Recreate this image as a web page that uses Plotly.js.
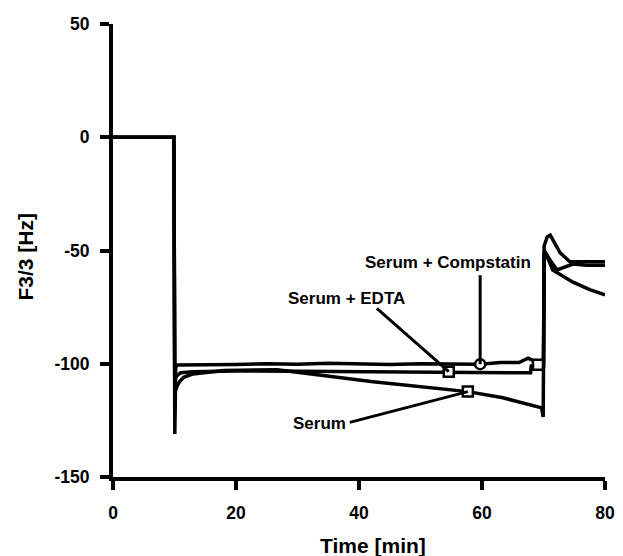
<!DOCTYPE html>
<html>
<head>
<meta charset="utf-8">
<script src="https://cdn.plot.ly/plotly-3.0.1.min.js"></script>
<style>
  html, body { margin: 0; padding: 0; background: #fff; }
  #chart { width: 623px; height: 556px; }
</style>
</head>
<body>
<div id="chart"></div>
<script>
// ---- Data ----
const timeSerum = [0, 9.9, 10.05, 10.15, 10.4, 10.8, 11.5, 13, 18, 26.7, 42.3, 57.7, 63.4, 69.7, 69.95, 70.1, 70.5, 71.5, 74.8, 77.6, 80];
const freqSerum = [0, 0, -131, -112, -110, -108, -106, -104.5, -103, -102.6, -107.9, -112.3, -115, -119.5, -123.5, -52, -52, -58.6, -64, -67.4, -69.6];

const timeEDTA = [0, 9.9, 10.05, 10.2, 10.5, 11, 13, 20, 30, 40, 54.6, 62, 67.9, 68.0, 69.5, 70.0, 70.15, 71, 72.2, 74.8, 77, 80];
const freqEDTA = [0, 0, -118, -106, -105, -104, -103.5, -103.2, -103.3, -103.4, -103.5, -103.8, -104, -101, -100.5, -102, -50, -54, -58.6, -56, -56.5, -56.5];

const timeComp = [0, 9.9, 10.05, 10.2, 10.5, 12, 20, 25, 30, 35, 40, 45, 50, 55, 59.7, 63, 66, 67.5, 69, 70, 70.1, 70.6, 71.1, 72.7, 74.3, 77, 80];
const freqComp = [0, 0, -112, -101.5, -100.5, -100.5, -100.3, -100, -100.2, -99.8, -100, -100.3, -100, -100.2, -100.2, -99.5, -99.5, -97.5, -99.5, -100, -48, -44, -43.2, -51, -55, -55, -55];

// Open markers on the traces
const markerTime = [59.7, 54.6, 57.7, 69.1];
const markerFreq = [-100.2, -103.5, -112.3, -100.4];
const markerSymbols = ['circle', 'square', 'square', 'square'];

// Labels and their leader lines
const labelTexts = ['Serum + Compstatin', 'Serum + EDTA', 'Serum'];
const labelX = [54.4, 38.0, 33.5];
const labelY = [-55.1, -71.4, -126.4];
const leaderStartX = [59.7, 42.9, 38.5];
const leaderStartY = [-60.9, -75.5, -125.9];
const leaderEndX = [59.7, 54.6, 57.7];
const leaderEndY = [-100.2, -103.5, -112.3];

// Axis ticks
const xTicks = [0, 20, 40, 60, 80];
const yTicks = [-150, -100, -50, 0, 50];

const FONT = 'Liberation Sans, Arial, Helvetica, sans-serif';
const lineStyle = {color: '#000', width: 3.5};

const traces = [
  {x: timeSerum, y: freqSerum, mode: 'lines', line: lineStyle, name: 'Serum', showlegend: false, hoverinfo: 'skip'},
  {x: timeEDTA, y: freqEDTA, mode: 'lines', line: lineStyle, name: 'Serum + EDTA', showlegend: false, hoverinfo: 'skip'},
  {x: timeComp, y: freqComp, mode: 'lines', line: lineStyle, name: 'Serum + Compstatin', showlegend: false, hoverinfo: 'skip'}
];

const shapes = labelTexts.map((t, i) => ({
  type: 'line', xref: 'x', yref: 'y',
  x0: leaderStartX[i], y0: leaderStartY[i], x1: leaderEndX[i], y1: leaderEndY[i],
  line: {color: '#000', width: 3}, layer: 'above'
}));

traces.push({
  x: markerTime, y: markerFreq, mode: 'markers', showlegend: false, hoverinfo: 'skip',
  marker: {symbol: markerSymbols, size: 10, color: '#fff', line: {color: '#000', width: 2.5}}
});

const annotations = labelTexts.map((t, i) => ({
  x: labelX[i], y: labelY[i], xref: 'x', yref: 'y', text: '<b>' + t + '</b>',
  showarrow: false, xanchor: 'center', yanchor: 'middle',
  font: {family: FONT, size: 17, color: '#000'}
}));

annotations.push({
  xref: 'paper', yref: 'paper', x: (373 - 113) / 492, y: -(545 - 477) / 453,
  text: '<b>Time [min]</b>', showarrow: false, xanchor: 'center', yanchor: 'middle',
  font: {family: FONT, size: 21, color: '#000'}
});
annotations.push({
  xref: 'paper', yref: 'paper', x: -(113 - 25) / 492, y: (477 - 256.5) / 453,
  text: '<b>F3/3 [Hz]</b>', showarrow: false, xanchor: 'center', yanchor: 'middle', textangle: -90,
  font: {family: FONT, size: 21, color: '#000'}
});

const axisCommon = {
  showgrid: false, zeroline: false, showline: true, linecolor: '#000', linewidth: 4,
  ticks: 'outside', ticklen: 9, tickwidth: 4, tickcolor: '#000',
  tickfont: {family: FONT, size: 17.5, color: '#000', weight: 'bold'}
};

const layout = {
  width: 623, height: 556,
  margin: {l: 113, r: 18, t: 24, b: 79},
  paper_bgcolor: '#fff', plot_bgcolor: '#fff',
  xaxis: Object.assign({}, axisCommon, {range: [0, 80], tickvals: xTicks, ticktext: xTicks.map(String), ticklabelstandoff: 8}),
  yaxis: Object.assign({}, axisCommon, {range: [-150, 50], tickvals: yTicks, ticktext: yTicks.map(String), ticklabelstandoff: 7}),
  shapes: shapes,
  annotations: annotations,
  showlegend: false
};

Plotly.newPlot('chart', traces, layout, {staticPlot: true, displayModeBar: false});
</script>
</body>
</html>
